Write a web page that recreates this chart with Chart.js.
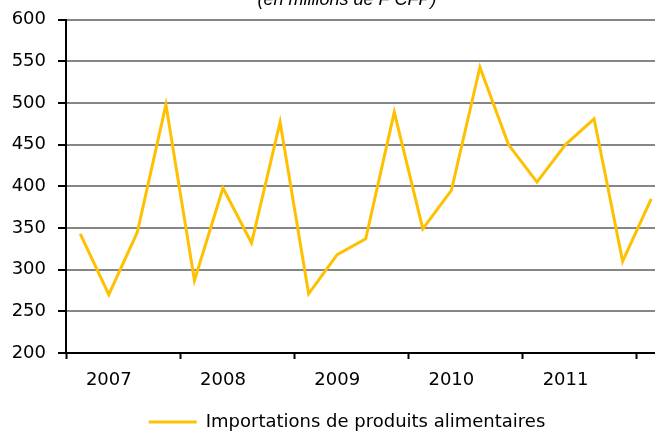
<!DOCTYPE html>
<html>
<head>
<meta charset="utf-8">
<script src="https://cdn.jsdelivr.net/npm/chart.js@4.4.1/dist/chart.umd.min.js"></script>
<style>
  html, body { margin: 0; padding: 0; background: #fff; overflow: hidden; width: 655px; height: 432px; }
  #wrap { position: absolute; left: 0; top: -14px; width: 694px; height: 455px; }
</style>
</head>
<body>
<div id="wrap"><canvas id="line-chart" width="694" height="455"></canvas></div>
<script>
// quarters 2007 T1 .. 2012 T2 (the reference is cut off on the right, last quarter has no value)
const categories = ['2007T1', '2007T2', '2007T3', '2007T4', '2008T1', '2008T2', '2008T3', '2008T4',
    '2009T1', '2009T2', '2009T3', '2009T4', '2010T1', '2010T2', '2010T3', '2010T4',
    '2011T1', '2011T2', '2011T3', '2011T4', '2012T1', '2012T2'];
const tickLabels = ['', '2007', '', '', '', '2008', '', '', '', '2009', '', '', '', '2010', '', '',
    '', '2011', '', '', '', ''];
const importations = [343, 270, 345, 498, 287, 398, 332, 477, 271, 318, 337, 489,
    349, 395, 543, 450, 405, 450, 481, 310, 385];
const yTicks = [200, 250, 300, 350, 400, 450, 500, 550, 600];

const txt = '#000';
const font = { family: 'DejaVu Sans', size: 18 };

new Chart(document.getElementById("line-chart"), {
    type: 'line',
    data: {
        labels: categories,
        datasets: [{
            data: importations,
            label: "Importations de produits alimentaires",
            borderColor: "#FFC000",
            backgroundColor: "#FFC000",
            borderWidth: 3,
            pointRadius: 0,
            tension: 0,
            fill: false
        }]
    },
    options: {
        responsive: false,
        animation: false,
        layout: { padding: 0 },
        plugins: {
            title: {
                display: true,
                text: '(en millions de F CFP)',
                color: txt,
                font: { family: 'Liberation Sans', size: 18, style: 'italic', weight: 'normal' },
                padding: { top: 3, bottom: 9 }
            },
            legend: {
                position: 'bottom',
                labels: {
                    color: txt,
                    font: font,
                    usePointStyle: true,
                    pointStyle: 'line',
                    pointStyleWidth: 48,
                    boxHeight: 18,
                    padding: 4
                }
            },
            tooltip: { enabled: false }
        },
        scales: {
            x: {
                offset: true,
                afterFit: (s) => { s.height = 56; },
                border: { color: '#000', width: 2 },
                grid: {
                    drawOnChartArea: false,
                    offset: true,
                    tickLength: 6,
                    tickWidth: 2,
                    tickColor: (c) => (c.index % 4 === 0 ? '#000' : 'rgba(0,0,0,0)')
                },
                ticks: {
                    autoSkip: false,
                    maxRotation: 0,
                    color: txt,
                    font: font,
                    padding: 11,
                    callback: (v, i) => tickLabels[i]
                }
            },
            y: {
                min: 200,
                max: 600,
                afterFit: (s) => { s.width = 66; },
                afterBuildTicks: (s) => { s.ticks = yTicks.map(v => ({ value: v })); },
                border: { color: '#000', width: 2 },
                grid: {
                    color: '#868686',
                    lineWidth: 2,
                    tickLength: 8,
                    tickWidth: 2,
                    tickColor: '#000'
                },
                ticks: {
                    color: txt,
                    font: font,
                    padding: 12
                }
            }
        }
    }
});
</script>
</body>
</html>
